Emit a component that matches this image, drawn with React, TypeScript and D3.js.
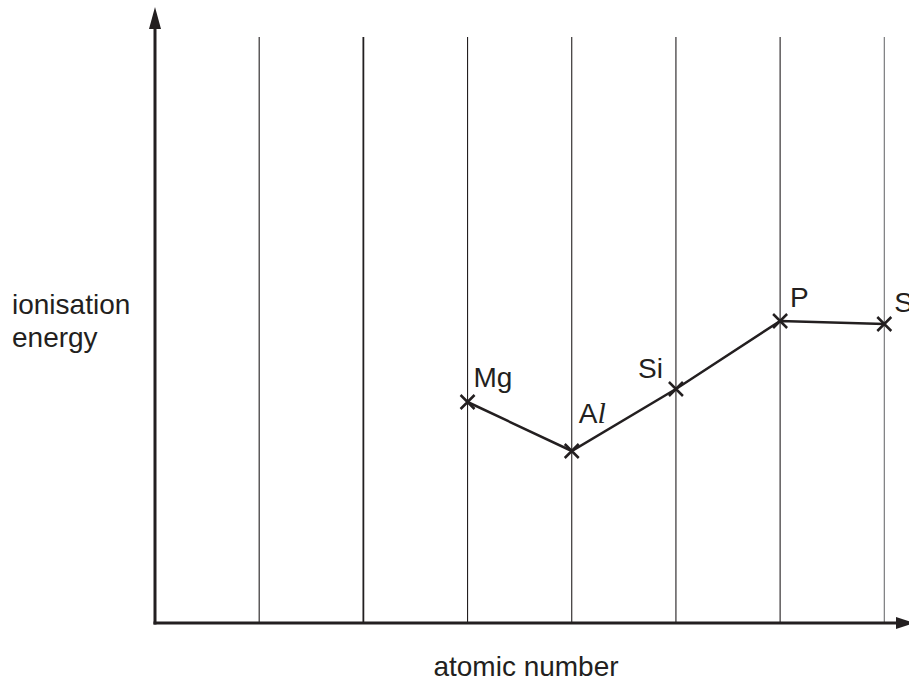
import React, { useEffect, useRef } from 'react';
import * as d3 from 'd3';

// atomic numbers of the plotted elements and their (relative) first ionisation energies
const elements = ['Mg', 'Al', 'Si', 'P', 'S'];
const atomicNumbers = [12, 13, 14, 15, 16];
const energies = [221, 172, 234, 302, 299];
const gridNumbers = [10, 11, 12, 13, 14, 15, 16];

const width = 909;
const height = 682;
const ink = '#231f20';
const font = '"Liberation Sans", Arial, sans-serif';

// label offsets [dx, dy, anchor] relative to each cross
const labelOffsets: [number, number, string][] = [
  [6, -15, 'start'],
  [7, -28, 'start'],
  [-13, -11, 'end'],
  [10, -14, 'start'],
  [10, -12, 'start'],
];

export default function App() {
  const svgRef = useRef<SVGSVGElement>(null);

  useEffect(() => {
    const svg = d3.select(svgRef.current);
    svg.selectAll('*').remove();

    const x = d3.scaleLinear().domain([9, 16]).range([155, 884.3]);
    const y = d3.scaleLinear().domain([0, 600]).range([623, 23]);

    // vertical grid lines
    svg.append('g')
      .selectAll('line')
      .data(gridNumbers)
      .join('line')
      .attr('x1', d => x(d))
      .attr('x2', d => x(d))
      .attr('y1', 37)
      .attr('y2', y(0))
      .attr('stroke', d => (d === 16 ? '#6d6e71' : ink))
      .attr('stroke-width', d => (d === 11 ? 1.8 : 1.1));

    // axes
    svg.append('line')
      .attr('x1', x(9)).attr('x2', x(9))
      .attr('y1', 28).attr('y2', y(0) + 1.5)
      .attr('stroke', ink).attr('stroke-width', 3);
    svg.append('path')
      .attr('d', `M${x(9)},7 L${x(9) - 6},29 L${x(9) + 6},29 Z`)
      .attr('fill', ink);

    svg.append('line')
      .attr('x1', x(9) - 1.5).attr('x2', 898)
      .attr('y1', y(0)).attr('y2', y(0))
      .attr('stroke', ink).attr('stroke-width', 3);
    svg.append('path')
      .attr('d', `M914,${y(0)} L896,${y(0) - 6} L896,${y(0) + 6} Z`)
      .attr('fill', ink);

    const pts = atomicNumbers.map((n, i) => [x(n), y(energies[i])] as [number, number]);

    // connecting line
    svg.append('path')
      .attr('d', d3.line()(pts) as string)
      .attr('fill', 'none')
      .attr('stroke', ink)
      .attr('stroke-width', 2.5);

    // crosses
    const s = 7;
    svg.append('g')
      .selectAll('path')
      .data(pts)
      .join('path')
      .attr('d', ([px, py]) => `M${px - s},${py - s}L${px + s},${py + s}M${px - s},${py + s}L${px + s},${py - s}`)
      .attr('stroke', ink)
      .attr('stroke-width', 2.5);

    // element labels
    const labels = svg.append('g')
      .attr('font-family', font)
      .attr('font-size', 28)
      .attr('fill', ink);
    elements.forEach((el, i) => {
      const [dx, dy, anchor] = labelOffsets[i];
      const t = labels.append('text')
        .attr('x', pts[i][0] + dx)
        .attr('y', pts[i][1] + dy)
        .attr('text-anchor', anchor);
      if (el === 'Al') {
        t.append('tspan').text('A');
        t.append('tspan')
          .attr('font-family', '"Liberation Serif", "Times New Roman", serif')
          .attr('font-style', 'italic')
          .attr('font-size', 30)
          .text('l');
      } else {
        t.text(el);
      }
    });

    // axis titles
    const titles = svg.append('g')
      .attr('font-family', font)
      .attr('font-size', 28)
      .attr('fill', ink);
    titles.append('text').attr('x', 12).attr('y', 314).text('ionisation');
    titles.append('text').attr('x', 12).attr('y', 347).text('energy');
    titles.append('text')
      .attr('x', 526).attr('y', 676)
      .attr('text-anchor', 'middle')
      .text('atomic number');
  }, []);

  return (
    <svg
      ref={svgRef}
      width={width}
      height={height}
      style={{ position: 'absolute', left: 0, top: 0, background: '#fff' }}
    />
  );
}
